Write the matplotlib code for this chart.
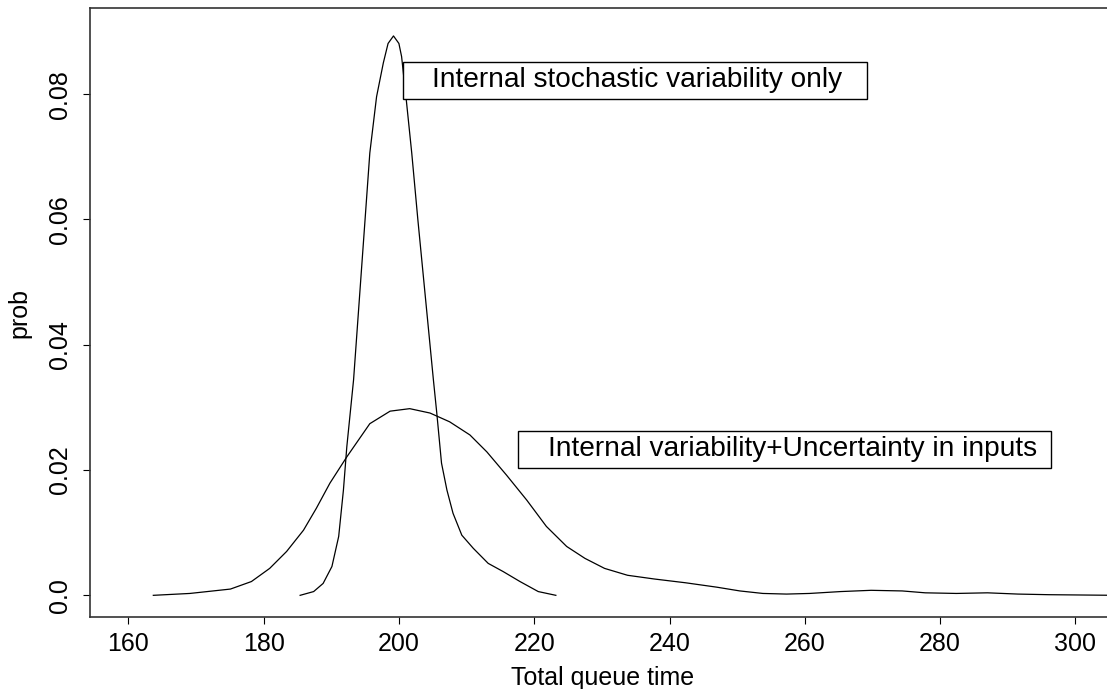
import matplotlib
matplotlib.use("Agg")
import matplotlib.pyplot as plt
from matplotlib.patches import Rectangle

plt.rcParams['font.family'] = ['Liberation Sans', 'DejaVu Sans']

# Data
narrow_x = [185.4, 187.4, 188.8, 190.1, 191.1, 191.8, 192.3, 193.3, 195.0, 195.7,
            196.7, 197.7, 198.4, 199.2, 200.0, 200.4, 201.1, 201.9, 202.8, 205.1,
            205.6, 206.3, 207.1, 208.0, 209.3, 211.0, 213.2, 215.4, 217.9, 220.6, 223.2]
narrow_y = [0.0, 0.0006, 0.0019, 0.0046, 0.0094, 0.0168, 0.0237, 0.0344, 0.0600, 0.0706,
            0.0796, 0.0850, 0.0881, 0.0893, 0.0881, 0.0860, 0.0790, 0.0706, 0.0600, 0.0344,
            0.0291, 0.0211, 0.0168, 0.0131, 0.0096, 0.0075, 0.0051, 0.0038, 0.0022, 0.0006, 0.0]

wide_x = [163.7, 169.1, 175.1, 178.2, 180.9, 183.4, 185.9, 187.8, 189.8, 192.3,
          195.7, 198.7, 201.6, 204.6, 207.5, 210.5, 213.0, 215.9, 218.9, 221.8,
          224.8, 227.5, 230.4, 233.8, 237.8, 242.4, 247.0, 250.4, 253.8, 257.3,
          260.7, 265.3, 269.8, 274.4, 277.8, 282.4, 287.0, 291.5, 296.1, 306.0]
wide_y = [0.0, 0.0003, 0.0010, 0.0022, 0.0043, 0.0070, 0.0104, 0.0139, 0.0179, 0.0221,
          0.0274, 0.0294, 0.0298, 0.0291, 0.0277, 0.0256, 0.0229, 0.0192, 0.0152, 0.0110,
          0.0078, 0.0059, 0.0043, 0.0032, 0.0026, 0.0020, 0.0013, 0.0007, 0.0003, 0.0002,
          0.0003, 0.0006, 0.0008, 0.0007, 0.0004, 0.0003, 0.0004, 0.0002, 0.0001, 0.0]

x_ticks = [160, 180, 200, 220, 240, 260, 280, 300]
y_ticks = [0.0, 0.02, 0.04, 0.06, 0.08]
y_tick_labels = ["0.0", "0.02", "0.04", "0.06", "0.08"]

label_narrow = "Internal stochastic variability only"
label_wide = "Internal variability+Uncertainty in inputs"

W, H = 1107, 689
fig = plt.figure(figsize=(W / 100, H / 100), dpi=100)
ax = fig.add_axes([90 / W, 72 / H, 1026 / W, 609 / H])

ax.plot(narrow_x, narrow_y, color='black', lw=0.9, zorder=2)
ax.plot(wide_x, wide_y, color='black', lw=0.9, zorder=2)

ax.set_xlim(154.34, 306.0)
ax.set_ylim(-0.00346, 0.09376)

ax.set_xticks(x_ticks)
ax.set_yticks(y_ticks)
ax.set_yticklabels(y_tick_labels, rotation=90, va='center')
ax.tick_params(axis='both', direction='out', length=5, width=0.8, labelsize=18)
ax.tick_params(axis='x', pad=6)
ax.tick_params(axis='y', pad=8)

for s in ['left', 'bottom', 'top']:
    ax.spines[s].set_linewidth(1.2)
    ax.spines[s].set_color('#333333')
ax.spines['right'].set_visible(False)

ax.set_xlabel("Total queue time", fontsize=18, labelpad=7)
ax.set_ylabel("prob", fontsize=18, labelpad=12)

# annotation boxes
ax.add_patch(Rectangle((200.56, 0.0793), 269.2 - 200.56, 0.0852 - 0.0793,
                       facecolor='white', edgecolor='black', lw=1.0, zorder=3))
ax.text(204.84, 0.08225, label_narrow, fontsize=20.2, va='center', ha='left', zorder=4)

ax.add_patch(Rectangle((217.67, 0.02037), 296.4 - 217.67, 0.02628 - 0.02037,
                       facecolor='white', edgecolor='black', lw=1.0, zorder=3))
ax.text(222.03, 0.02333, label_wide, fontsize=20.2, va='center', ha='left', zorder=4)

fig.savefig("out.png", dpi=100)
